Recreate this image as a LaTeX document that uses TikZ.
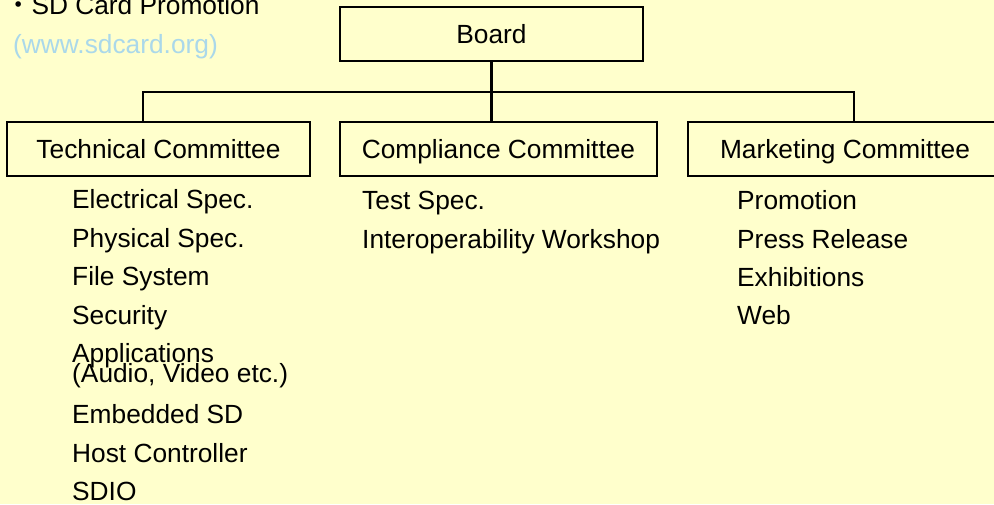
\documentclass[tikz,border=0pt]{standalone}
\usepackage{fontspec}
\setmainfont{Liberation Sans}
\newfontfamily\cjkfont{Noto Sans CJK JP}
\definecolor{bgyellow}{RGB}{255,255,204}
\definecolor{urlblue}{RGB}{170,216,234}
\begin{document}
\begin{tikzpicture}[x=1pt,y=-1pt,
  every node/.style={font=\fontsize{26.3}{30}\selectfont, inner sep=0pt},
  orgbox/.style={draw=black, line width=2.5pt, minimum height=54pt, text height=19pt, text depth=0pt},
  item/.style={anchor=base west},
  conn/.style={draw=black, line width=2.5pt}]
\fill[bgyellow] (0,0) rectangle (994,504);
\useasboundingbox (0,0) rectangle (994,504);
% title
\node[anchor=base west] (title) at (5,14) {{\cjkfont ・}SD Card Promotion};
\node[anchor=base west, text=urlblue] (url) at (13,53) {(www.sdcard.org)};
% boxes
\node[orgbox, minimum width=303pt] (board) at (491.5,34) {Board};
\node[orgbox, minimum width=303pt] (tech) at (158.5,149) {Technical Committee};
\node[orgbox, minimum width=317pt] (comp) at (498.5,149) {Compliance Committee};
\node[orgbox, minimum width=314pt] (mkt) at (845,149) {Marketing Committee};
% connectors
\coordinate (hl) at (143,92);
\coordinate (hr) at (854,92);
\draw[conn] (board.south) -- (board.south |- comp.north);
\draw[conn] (tech.north -| hl) -- (hl) -- (hr) -- (mkt.north -| hr);
% technical list
\node[item] (t1) at (72,208) {Electrical Spec.};
\node[item] (t2) at (72,247) {Physical Spec.};
\node[item] (t3) at (72,285) {File System};
\node[item] (t4) at (72,324) {Security};
\node[item] (t5) at (72,362) {Applications};
\node[item] (t5b) at (72,382) {(Audio, Video etc.)};
\node[item] (t6) at (72,423) {Embedded SD};
\node[item] (t7) at (72,462) {Host Controller};
\node[item] (t8) at (72,500) {SDIO};
% compliance list
\node[item] (c1) at (362,209) {Test Spec.};
\node[item] (c2) at (362,248) {Interoperability Workshop};
% marketing list
\node[item] (m1) at (737,209) {Promotion};
\node[item] (m2) at (737,248) {Press Release};
\node[item] (m3) at (737,286) {Exhibitions};
\node[item] (m4) at (737,324) {Web};
\end{tikzpicture}
\end{document}
